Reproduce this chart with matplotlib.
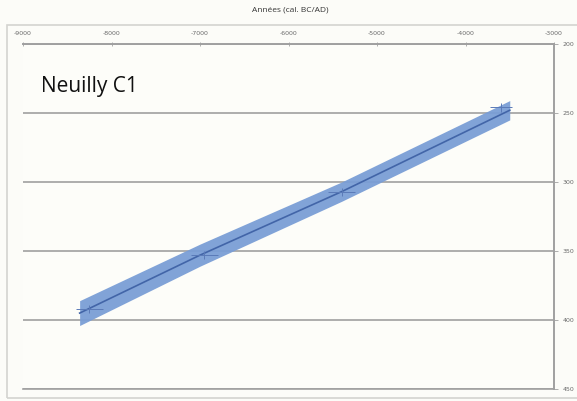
import numpy as np
import matplotlib.pyplot as plt
from matplotlib.patches import Rectangle

plt.rcParams["axes.unicode_minus"] = False

# age-depth model (cal. BC/AD vs depth)
model_years = [-8360, -7000, -5400, -3500]
model_depth = [395, 353, 307, 248]
half_width = [9, 8, 7, 7]

# dated samples
date_years = [-8250, -6950, -5400, -3600]
date_depth = [392, 353, 307, 246]
date_xerr = [150, 150, 150, 120]
date_yerr = [3, 3, 3, 3]

xticks = [-9000, -8000, -7000, -6000, -5000, -4000, -3000]
yticks = [200, 250, 300, 350, 400, 450]

grey = "#a0a0a0"

fig = plt.figure(figsize=(5.77, 4.01), dpi=100, facecolor="#fcfcf8")
fig.patches.append(Rectangle((7 / 577, 3 / 401), 0.99, 373 / 401,
                             transform=fig.transFigure, fill=False,
                             edgecolor="#d4d4d0", linewidth=1.2))
ax = fig.add_axes([23 / 577, 12 / 401, 531 / 577, 345 / 401])
ax.set_facecolor("#fdfdf9")

lower = np.array(model_depth) - np.array(half_width)
upper = np.array(model_depth) + np.array(half_width)
ax.fill_between(model_years, lower, upper, color="#7a9ed6", alpha=0.95,
                linewidth=0, zorder=3)
ax.plot(model_years, model_depth, color="#4265a8", linewidth=1.2, zorder=4)
ax.errorbar(date_years, date_depth, xerr=date_xerr, yerr=date_yerr,
            fmt="none", ecolor="#5a7ab8", elinewidth=0.7, capsize=0, zorder=5)

ax.set_xlim(-9000, -3000)
ax.set_ylim(450, 200)
ax.set_xticks(xticks)
ax.set_yticks(yticks)
ax.xaxis.tick_top()
ax.yaxis.tick_right()
ax.tick_params(axis="x", labelsize=4.5, labelcolor="#6a6a6a", direction="inout",
               length=3, width=0.6, color=grey, pad=4)
ax.tick_params(axis="y", labelsize=4.5, labelcolor="#6a6a6a", direction="out",
               length=3, width=0.6, color=grey, pad=3)
for s in ["left", "bottom"]:
    ax.spines[s].set_visible(False)
for s in ["top", "right"]:
    ax.spines[s].set_color(grey)
    ax.spines[s].set_linewidth(1.4)
ax.grid(True, axis="y", color=grey, linewidth=1.2, zorder=1)
ax.axhline(450, color=grey, linewidth=1.2, clip_on=False, zorder=1)
ax.set_axisbelow(True)

fig.text(0.503, 1 - 10 / 401, "Années (cal. BC/AD)", ha="center", va="center",
         fontsize=6, color="#333333", family="Open Sans")
ax.text(-8800, 231, "Neuilly C1", fontsize=15, color="#111111",
        family="Open Sans", va="center", ha="left")

fig.savefig("out.png", dpi=100, facecolor=fig.get_facecolor())
